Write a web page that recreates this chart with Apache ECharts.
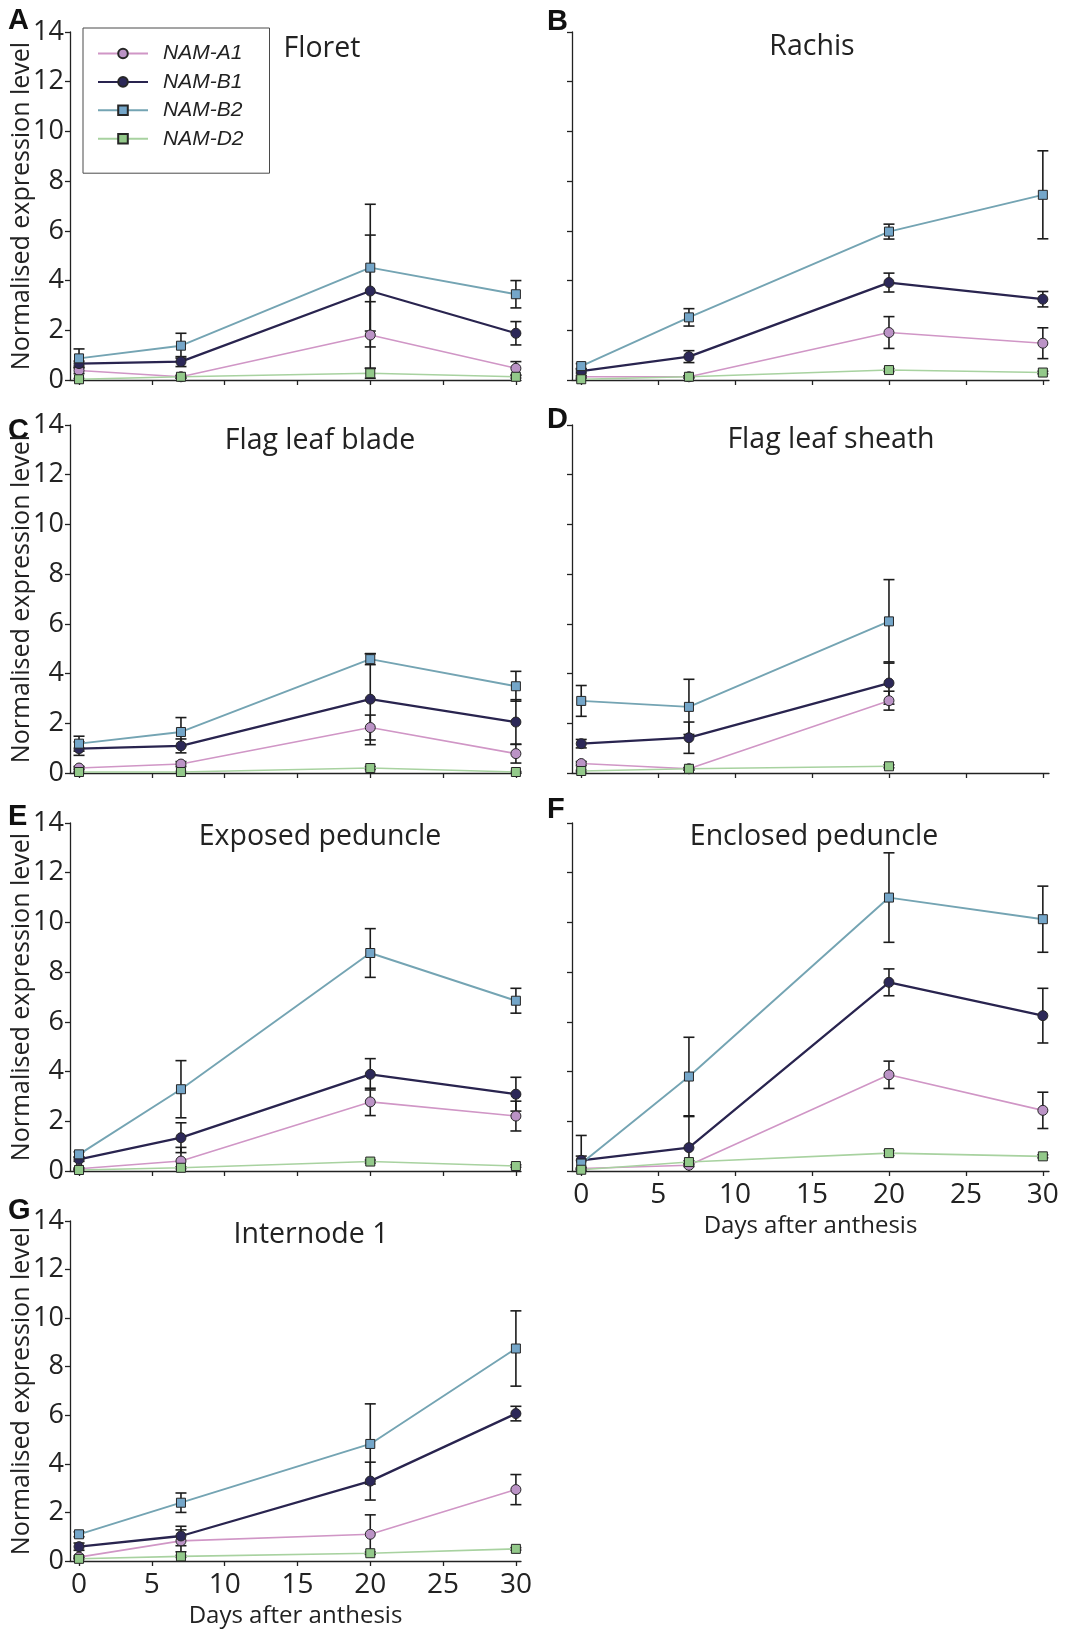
<!DOCTYPE html>
<html>
<head>
<meta charset="utf-8">
<script src="https://cdn.jsdelivr.net/npm/echarts@6/dist/echarts.min.js"></script>
<style>
  html, body { margin: 0; padding: 0; background: #ffffff; }
  #chart { width: 1071px; height: 1629px; }
</style>
</head>
<body>
<div id="chart"></div>
<script>
// Sampling days and gene names
const days = [0, 7, 20, 30];
const dayTicks = [0, 5, 10, 15, 20, 25, 30];
const genes = ['NAM-A1', 'NAM-B1', 'NAM-B2', 'NAM-D2'];
const tissues = ['Floret', 'Rachis', 'Flag leaf blade', 'Flag leaf sheath',
                 'Exposed peduncle', 'Enclosed peduncle', 'Internode 1'];
const panelLetters = ['A', 'B', 'C', 'D', 'E', 'F', 'G'];

// Mean expression per gene (rows: NAM-A1, NAM-B1, NAM-B2, NAM-D2), columns follow `days`
const floretMeans = [[0.38, 0.13, 1.81, 0.47], [0.66, 0.74, 3.58, 1.88], [0.87, 1.38, 4.52, 3.45], [0.03, 0.13, 0.27, 0.13]];
const floretErrors = [[0.12, 0.05, 1.34, 0.27], [0.10, 0.20, 2.25, 0.47], [0.38, 0.50, 2.55, 0.55], [0.03, 0.05, 0.20, 0.05]];

const rachisMeans = [[0.13, 0.13, 1.91, 1.48], [0.36, 0.94, 3.92, 3.25], [0.56, 2.52, 5.97, 7.45], [0.03, 0.13, 0.40, 0.30]];
const rachisErrors = [[0.05, 0.04, 0.64, 0.62], [0.08, 0.24, 0.38, 0.31], [0.10, 0.35, 0.30, 1.77], [0.02, 0.04, 0.06, 0.05]];

const bladeMeans = [[0.20, 0.36, 1.83, 0.78], [0.98, 1.09, 2.97, 2.05], [1.18, 1.65, 4.58, 3.49], [0.04, 0.04, 0.20, 0.04]];
const bladeErrors = [[0.06, 0.10, 0.50, 0.38], [0.27, 0.28, 1.83, 0.90], [0.30, 0.58, 0.22, 0.60], [0.02, 0.02, 0.06, 0.02]];

const sheathMeans = [[0.38, 0.17, 2.91, null], [1.18, 1.42, 3.62, null], [2.90, 2.66, 6.10, null], [0.08, 0.17, 0.27, null]];
const sheathErrors = [[0.08, 0.05, 0.38, null], [0.17, 0.63, 0.85, null], [0.62, 1.11, 1.68, null], [0.03, 0.04, 0.06, null]];

const exposedMeans = [[0.09, 0.40, 2.78, 2.21], [0.47, 1.34, 3.89, 3.09], [0.67, 3.29, 8.77, 6.85], [0.04, 0.13, 0.38, 0.20]];
const exposedErrors = [[0.03, 0.55, 0.55, 0.60], [0.08, 0.60, 0.63, 0.68], [0.10, 1.15, 0.98, 0.50], [0.02, 0.04, 0.06, 0.05]];

const enclosedMeans = [[0.10, 0.23, 3.87, 2.44], [0.43, 0.94, 7.59, 6.25], [0.30, 3.80, 11.00, 10.13], [0.05, 0.36, 0.72, 0.59]];
const enclosedErrors = [[0.03, 0.05, 0.55, 0.73], [1.00, 1.25, 0.54, 1.10], [0.30, 1.58, 1.80, 1.33], [0.02, 0.05, 0.10, 0.06]];

const internodeMeans = [[0.16, 0.83, 1.10, 2.94], [0.59, 1.03, 3.29, 6.07], [1.10, 2.40, 4.82, 8.75], [0.09, 0.19, 0.32, 0.50]];
const internodeErrors = [[0.05, 0.45, 0.80, 0.62], [0.15, 0.40, 0.78, 0.30], [0.10, 0.40, 1.65, 1.55], [0.03, 0.04, 0.05, 0.05]];

const meansByPanel = [floretMeans, rachisMeans, bladeMeans, sheathMeans, exposedMeans, enclosedMeans, internodeMeans];
const errorsByPanel = [floretErrors, rachisErrors, bladeErrors, sheathErrors, exposedErrors, enclosedErrors, internodeErrors];

// Styling per gene
const lineColors = ['#d096c6', '#29244f', '#74a4b3', '#a8d2a0'];
const fillColors = ['#bb93c6', '#2c2858', '#74a6c9', '#93c98a'];
const lineWidths = [1.6, 2.3, 1.9, 1.6];
const symbols = ['circle', 'circle', 'rect', 'rect'];
const symbolSizes = [10, 10, 9, 9];

const SANS = '"Open Sans", "Noto Sans", sans-serif';
const ARIAL = '"Liberation Sans", Arial, sans-serif';
const INK = '#222222';

// Panel frames: two columns, four rows
const colLeft = [{ left: 70, width: 451, xmin: -0.62, xmax: 30.35 }, { left: 572, width: 477, xmin: -0.6, xmax: 30.4 }];
const rowTop = [32, 425, 823, 1221];
const plotHeight = 348;
const panels = tissues.map((t, i) => {
  const col = i % 2, row = Math.floor(i / 2);
  return Object.assign({ col, row, top: rowTop[row], xLabels: (i === 5 || i === 6) }, colLeft[col]);
});

const axisLineStyle = { color: INK, width: 1.3 };

const grids = panels.map(p => ({ left: p.left, top: p.top, width: p.width, height: plotHeight, containLabel: false }));

const xAxes = panels.map((p, i) => ({
  gridIndex: i, type: 'value', min: p.xmin, max: p.xmax,
  axisLine: { show: true, onZero: false, lineStyle: axisLineStyle },
  axisTick: { show: true, length: 5, inside: false, customValues: dayTicks, lineStyle: axisLineStyle },
  axisLabel: { show: p.xLabels, customValues: dayTicks, fontSize: 28, margin: 10, color: INK, fontFamily: SANS },
  splitLine: { show: false },
  name: p.xLabels ? 'Days after anthesis' : '',
  nameLocation: 'middle', nameGap: 43,
  nameTextStyle: { fontSize: 24, color: INK, fontFamily: SANS }
}));

const yAxes = panels.map((p, i) => ({
  gridIndex: i, type: 'value', min: 0, max: 14, interval: 2,
  axisLine: { show: true, onZero: false, lineStyle: axisLineStyle },
  axisTick: { show: true, length: 5, inside: false, lineStyle: axisLineStyle },
  axisLabel: { show: p.col === 0, fontSize: 27, margin: 6, color: INK, fontFamily: SANS },
  splitLine: { show: false },
  name: p.col === 0 ? 'Normalised expression level' : '',
  nameLocation: 'middle', nameGap: 36, nameMoveOverlap: false,
  nameTextStyle: { fontSize: 25, color: INK, fontFamily: SANS }
}));

// Lines with markers, plus error bars underneath
const lineSeries = [];
const errorSeries = [];
panels.forEach((p, pi) => {
  genes.forEach((g, gi) => {
    const means = meansByPanel[pi][gi];
    const errs = errorsByPanel[pi][gi];
    const pts = [];
    const bars = [];
    days.forEach((d, di) => {
      if (means[di] == null) return;
      pts.push([d, means[di]]);
      bars.push([d, means[di] - errs[di], means[di] + errs[di]]);
    });
    lineSeries.push({
      type: 'line', name: g, xAxisIndex: pi, yAxisIndex: pi, z: 3,
      data: pts, symbol: symbols[gi], symbolSize: symbolSizes[gi], showAllSymbol: true,
      lineStyle: { color: lineColors[gi], width: lineWidths[gi] },
      itemStyle: { color: fillColors[gi], borderColor: '#262626', borderWidth: 1 },
      emphasis: { disabled: true }, animation: false
    });
    errorSeries.push({
      type: 'custom', name: g, xAxisIndex: pi, yAxisIndex: pi, z: 2,
      data: bars, encode: { x: 0, y: [1, 2] }, animation: false, silent: true,
      renderItem: function (params, api) {
        const x = api.value(0);
        const lo = api.value(1), hi = api.value(2);
        const top = api.coord([x, hi]);
        const bot = api.coord([x, Math.max(lo, 0)]);
        const hw = 5.5;
        const st = { stroke: '#1c1c1c', lineWidth: 1.6 };
        const kids = [
          { type: 'line', shape: { x1: top[0], y1: top[1], x2: bot[0], y2: bot[1] }, style: st },
          { type: 'line', shape: { x1: top[0] - hw, y1: top[1], x2: top[0] + hw, y2: top[1] }, style: st }
        ];
        if (lo > 0) {
          kids.push({ type: 'line', shape: { x1: bot[0] - hw, y1: bot[1], x2: bot[0] + hw, y2: bot[1] }, style: st });
        }
        return { type: 'group', children: kids };
      }
    });
  });
});

// Panel titles and letters
const titleCenters = [[322, 49], [812, 47], [320, 441], [831, 440], [320, 837], [814, 837], [311, 1235]];
const letterPos = [[8, 21], [547, 22], [8, 431], [547, 420], [8, 817], [547, 810], [8, 1211]];
const graphics = [];
panels.forEach((p, i) => {
  graphics.push({
    type: 'text', x: titleCenters[i][0], y: titleCenters[i][1], silent: true,
    style: { text: tissues[i], fill: INK, font: '28.5px ' + SANS, textAlign: 'center', textVerticalAlign: 'middle' }
  });
  graphics.push({
    type: 'text', x: letterPos[i][0], y: letterPos[i][1], silent: true,
    style: { text: panelLetters[i], fill: '#111111', font: 'bold 29px ' + ARIAL, textAlign: 'left', textVerticalAlign: 'middle' }
  });
});

const chart = echarts.init(document.getElementById('chart'), null, { renderer: 'canvas' });
chart.setOption({
  backgroundColor: '#ffffff',
  animation: false,
  textStyle: { fontFamily: SANS },
  grid: grids,
  xAxis: xAxes,
  yAxis: yAxes,
  legend: {
    data: genes, orient: 'vertical', left: 83, top: 28,
    padding: [15, 26, 24, 14], itemGap: 7.4, itemWidth: 50, itemHeight: 12,
    borderColor: '#4a4a4a', borderWidth: 1, backgroundColor: '#ffffff',
    selectedMode: false,
    textStyle: { fontSize: 21, lineHeight: 21, fontStyle: 'italic', color: INK,
                 fontFamily: ARIAL, padding: [0, 0, 0, 10] }
  },
  graphic: graphics,
  series: lineSeries.concat(errorSeries)
});
</script>
</body>
</html>
